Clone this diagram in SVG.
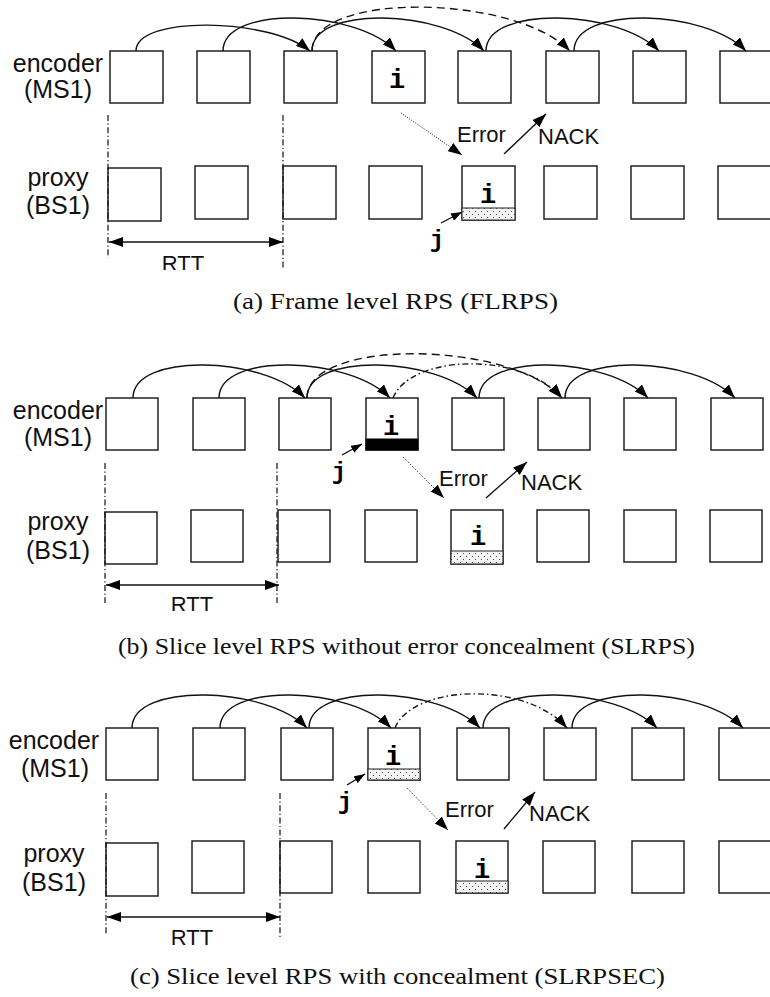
<svg xmlns="http://www.w3.org/2000/svg" width="770" height="997" viewBox="0 0 770 997">
<defs>
<style>
.bx{fill:#fff;stroke:#222;stroke-width:1.5}
.lbl{font-family:"Liberation Sans",Arial,sans-serif;font-size:25px;fill:#111;text-anchor:middle}
.sm{font-family:"Liberation Sans",Arial,sans-serif;font-size:22px;fill:#111}
.mono{font-family:"Liberation Mono","Courier New",monospace;font-weight:bold;font-size:27px;fill:#000;text-anchor:middle}
.mj{font-size:24px}
.cap{font-family:"Liberation Serif","Times New Roman",serif;font-size:23px;fill:#111}
.arc{fill:none;stroke:#111;stroke-width:1.4;marker-end:url(#ah)}
.dsh{stroke-dasharray:8 5}
.dd{stroke-dasharray:6 3 1.5 3}
.vl{fill:none;stroke:#111;stroke-width:1.2;stroke-dasharray:6 2.5 1.2 2.5}
.err{fill:none;stroke:#111;stroke-width:1;stroke-dasharray:1 1.5;marker-end:url(#ah)}
.ln{fill:none;stroke:#111;stroke-width:1.4;marker-end:url(#ah)}
.jl{fill:none;stroke:#111;stroke-width:1.4;marker-end:url(#ahs)}
.rtt{fill:none;stroke:#111;stroke-width:1.4;marker-end:url(#ah);marker-start:url(#ahr)}
.dots{fill:url(#dotp);stroke:#222;stroke-width:1}
.blk{fill:#000;stroke:#000;stroke-width:1}
</style>
<marker id="ah" viewBox="0 0 14 10" refX="14" refY="5" markerWidth="14" markerHeight="10" markerUnits="userSpaceOnUse" orient="auto"><path d="M0,0 L14,5 L0,10 z" fill="#000"/></marker>
<marker id="ahr" viewBox="0 0 14 10" refX="14" refY="5" markerWidth="14" markerHeight="10" markerUnits="userSpaceOnUse" orient="auto-start-reverse"><path d="M0,0 L14,5 L0,10 z" fill="#000"/></marker>
<marker id="ahs" viewBox="0 0 11 8" refX="11" refY="4" markerWidth="11" markerHeight="8" markerUnits="userSpaceOnUse" orient="auto"><path d="M0,0 L11,4 L0,8 z" fill="#000"/></marker>
<pattern id="dotp" width="6" height="6" patternUnits="userSpaceOnUse"><rect width="6" height="6" fill="#f4f4f4"/><circle cx="1.5" cy="1.5" r="0.6" fill="#333"/><circle cx="4.5" cy="4.5" r="0.6" fill="#333"/></pattern>
<clipPath id="clipA"><rect x="0" y="0" width="770" height="270"/></clipPath>
<clipPath id="clipB"><rect x="0" y="320" width="770" height="291"/></clipPath>
</defs>

<!-- ===== Panel (a) ===== -->
<g id="labels-a">
<text class="lbl" x="58" y="72">encoder</text>
<text class="lbl" x="58" y="98">(MS1)</text>
<text class="lbl" x="58" y="186">proxy</text>
<text class="lbl" x="58" y="214">(BS1)</text>
</g>
<g id="a-enc1"><rect class="bx" x="110" y="51" width="53" height="52"/></g>
<g id="a-enc2"><rect class="bx" x="197" y="51" width="53" height="52"/></g>
<g id="a-enc3"><rect class="bx" x="284" y="51" width="53" height="52"/></g>
<g id="a-enc4"><rect class="bx" x="372" y="51" width="53" height="52"/><text class="mono" x="397" y="88">i</text></g>
<g id="a-enc5"><rect class="bx" x="458" y="51" width="53" height="52"/></g>
<g id="a-enc6"><rect class="bx" x="546" y="51" width="53" height="52"/></g>
<g id="a-enc7"><rect class="bx" x="633" y="51" width="53" height="52"/></g>
<g id="a-enc8"><rect class="bx" x="720" y="51" width="53" height="52"/></g>
<g id="a-px1"><rect class="bx" x="108" y="168" width="53" height="53"/></g>
<g id="a-px2"><rect class="bx" x="195" y="166" width="53" height="53"/></g>
<g id="a-px3"><rect class="bx" x="283" y="166" width="53" height="53"/></g>
<g id="a-px4"><rect class="bx" x="369" y="166" width="53" height="53"/></g>
<g id="a-px5"><rect class="bx" x="462" y="166" width="53" height="54"/><rect class="dots" x="462" y="208" width="53" height="12"/><text class="mono" x="488" y="203">i</text></g>
<g id="a-px6"><rect class="bx" x="544" y="166" width="53" height="53"/></g>
<g id="a-px7"><rect class="bx" x="631" y="166" width="53" height="53"/></g>
<g id="a-px8"><rect class="bx" x="718" y="166" width="53" height="53"/></g>
<g id="a-text">
<text class="sm" x="457" y="142">Error</text>
<text class="sm" x="538" y="144">NACK</text>
<text class="mono mj" x="437" y="247">j</text>
<text class="sm" x="183" y="271" text-anchor="middle" clip-path="url(#clipA)">RTT</text>
</g>
<g id="connectors-a">
<path class="arc" d="M136,51 C136,15 270,18 310,51"/>
<path class="arc" d="M223,51 C223,5 356,9 396,51"/>
<path class="arc" d="M312,51 C312,5 444,9 484,51"/>
<path class="arc" d="M486,51 C486,5 619,9 659,51"/>
<path class="arc" d="M574,51 C574,5 706,9 746,51"/>
<path class="arc dsh" d="M312,51 C312,-9 515,-6 570,51"/>
<path class="vl" d="M108,115 V258"/>
<path class="vl" d="M283,115 V269"/>
<path class="rtt" d="M109,242 H283"/>
<path class="err" d="M401,113 L462,155"/>
<path class="ln" d="M504,154 L546,114"/>
<path class="jl" d="M441,223 L462,212"/>
</g>
<text class="cap" x="233" y="309" textLength="325" lengthAdjust="spacingAndGlyphs">(a) Frame level RPS (FLRPS)</text>

<!-- ===== Panel (b) ===== -->
<g id="labels-b">
<text class="lbl" x="58" y="419">encoder</text>
<text class="lbl" x="58" y="446">(MS1)</text>
<text class="lbl" x="58" y="530">proxy</text>
<text class="lbl" x="58" y="559">(BS1)</text>
</g>
<g id="b-enc1"><rect class="bx" x="106" y="398" width="52" height="52"/></g>
<g id="b-enc2"><rect class="bx" x="193" y="398" width="52" height="52"/></g>
<g id="b-enc3"><rect class="bx" x="279" y="398" width="52" height="52"/></g>
<g id="b-enc4"><rect class="bx" x="366" y="398" width="52" height="52"/><rect class="blk" x="366" y="439" width="52" height="11"/><text class="mono" x="391" y="435">i</text></g>
<g id="b-enc5"><rect class="bx" x="452" y="398" width="52" height="52"/></g>
<g id="b-enc6"><rect class="bx" x="538" y="398" width="52" height="52"/></g>
<g id="b-enc7"><rect class="bx" x="624" y="398" width="52" height="52"/></g>
<g id="b-enc8"><rect class="bx" x="711" y="398" width="52" height="52"/></g>
<g id="b-px1"><rect class="bx" x="105" y="512" width="52" height="52"/></g>
<g id="b-px2"><rect class="bx" x="191" y="510" width="52" height="52"/></g>
<g id="b-px3"><rect class="bx" x="278" y="510" width="52" height="52"/></g>
<g id="b-px4"><rect class="bx" x="365" y="510" width="52" height="52"/></g>
<g id="b-px5"><rect class="bx" x="451" y="510" width="52" height="54"/><rect class="dots" x="451" y="551" width="52" height="13"/><text class="mono" x="478" y="545">i</text></g>
<g id="b-px6"><rect class="bx" x="537" y="510" width="52" height="52"/></g>
<g id="b-px7"><rect class="bx" x="624" y="510" width="52" height="52"/></g>
<g id="b-px8"><rect class="bx" x="710" y="510" width="52" height="52"/></g>
<g id="b-text">
<text class="sm" x="439" y="486">Error</text>
<text class="sm" x="521" y="490">NACK</text>
<text class="mono mj" x="339" y="479">j</text>
<text class="sm" x="192" y="612" text-anchor="middle" clip-path="url(#clipB)">RTT</text>
</g>
<g id="connectors-b">
<path class="arc" d="M133,398 C133,352 265,356 305,398"/>
<path class="arc" d="M219,398 C219,352 350,356 390,398"/>
<path class="arc" d="M307,398 C307,352 437,356 477,398"/>
<path class="arc" d="M479,398 C479,352 608,356 648,398"/>
<path class="arc" d="M565,398 C565,352 695,356 735,398"/>
<path class="arc dsh" d="M307,398 C307,338 510,340 562,398"/>
<path class="arc dd" d="M393,398 C410,355 520,350 562,398"/>
<path class="vl" d="M105,463 V603"/>
<path class="vl" d="M277,463 V603"/>
<path class="rtt" d="M106,585 H279"/>
<path class="err" d="M403,457 L444,498"/>
<path class="ln" d="M486,498 L527,462"/>
<path class="jl" d="M342,455 L362,444"/>
</g>
<text class="cap" x="118" y="654" textLength="577" lengthAdjust="spacingAndGlyphs">(b) Slice level RPS without error concealment (SLRPS)</text>

<!-- ===== Panel (c) ===== -->
<g id="labels-c">
<text class="lbl" x="54" y="749">encoder</text>
<text class="lbl" x="55" y="777">(MS1)</text>
<text class="lbl" x="54" y="862">proxy</text>
<text class="lbl" x="54" y="891">(BS1)</text>
</g>
<g id="c-enc1"><rect class="bx" x="106" y="728" width="52" height="52"/></g>
<g id="c-enc2"><rect class="bx" x="193" y="728" width="52" height="52"/></g>
<g id="c-enc3"><rect class="bx" x="281" y="728" width="52" height="52"/></g>
<g id="c-enc4"><rect class="bx" x="368" y="728" width="52" height="52"/><rect class="dots" x="368" y="769" width="52" height="11"/><text class="mono" x="393" y="765">i</text></g>
<g id="c-enc5"><rect class="bx" x="457" y="728" width="52" height="52"/></g>
<g id="c-enc6"><rect class="bx" x="544" y="728" width="52" height="52"/></g>
<g id="c-enc7"><rect class="bx" x="632" y="728" width="52" height="52"/></g>
<g id="c-enc8"><rect class="bx" x="719" y="728" width="53" height="52"/></g>
<g id="c-px1"><rect class="bx" x="106" y="843" width="52" height="53"/></g>
<g id="c-px2"><rect class="bx" x="192" y="841" width="52" height="52"/></g>
<g id="c-px3"><rect class="bx" x="280" y="841" width="52" height="52"/></g>
<g id="c-px4"><rect class="bx" x="368" y="841" width="52" height="52"/></g>
<g id="c-px5"><rect class="bx" x="456" y="841" width="52" height="52"/><rect class="dots" x="456" y="881" width="52" height="12"/><text class="mono" x="482" y="878">i</text></g>
<g id="c-px6"><rect class="bx" x="543" y="841" width="52" height="52"/></g>
<g id="c-px7"><rect class="bx" x="632" y="841" width="52" height="52"/></g>
<g id="c-px8"><rect class="bx" x="719" y="841" width="53" height="52"/></g>
<g id="c-text">
<text class="sm" x="445" y="817">Error</text>
<text class="sm" x="529" y="821">NACK</text>
<text class="mono mj" x="345" y="809">j</text>
<text class="sm" x="192" y="945" text-anchor="middle">RTT</text>
</g>
<g id="connectors-c">
<path class="arc" d="M132,728 C132,682 267,686 307,728"/>
<path class="arc" d="M220,728 C220,682 351,686 391,728"/>
<path class="arc" d="M309,728 C309,682 440,686 480,728"/>
<path class="arc" d="M483,728 C483,682 617,686 657,728"/>
<path class="arc" d="M572,728 C572,682 703,686 743,728"/>
<path class="arc dd" d="M395,728 C412,685 525,680 567,728"/>
<path class="vl" d="M106,793 V935"/>
<path class="vl" d="M280,793 V937"/>
<path class="rtt" d="M107,917 H280"/>
<path class="err" d="M407,788 L448,830"/>
<path class="ln" d="M504,829 L535,792"/>
<path class="jl" d="M347,785 L365,774"/>
</g>
<text class="cap" x="130" y="984" textLength="535" lengthAdjust="spacingAndGlyphs">(c) Slice level RPS with concealment (SLRPSEC)</text>
</svg>
